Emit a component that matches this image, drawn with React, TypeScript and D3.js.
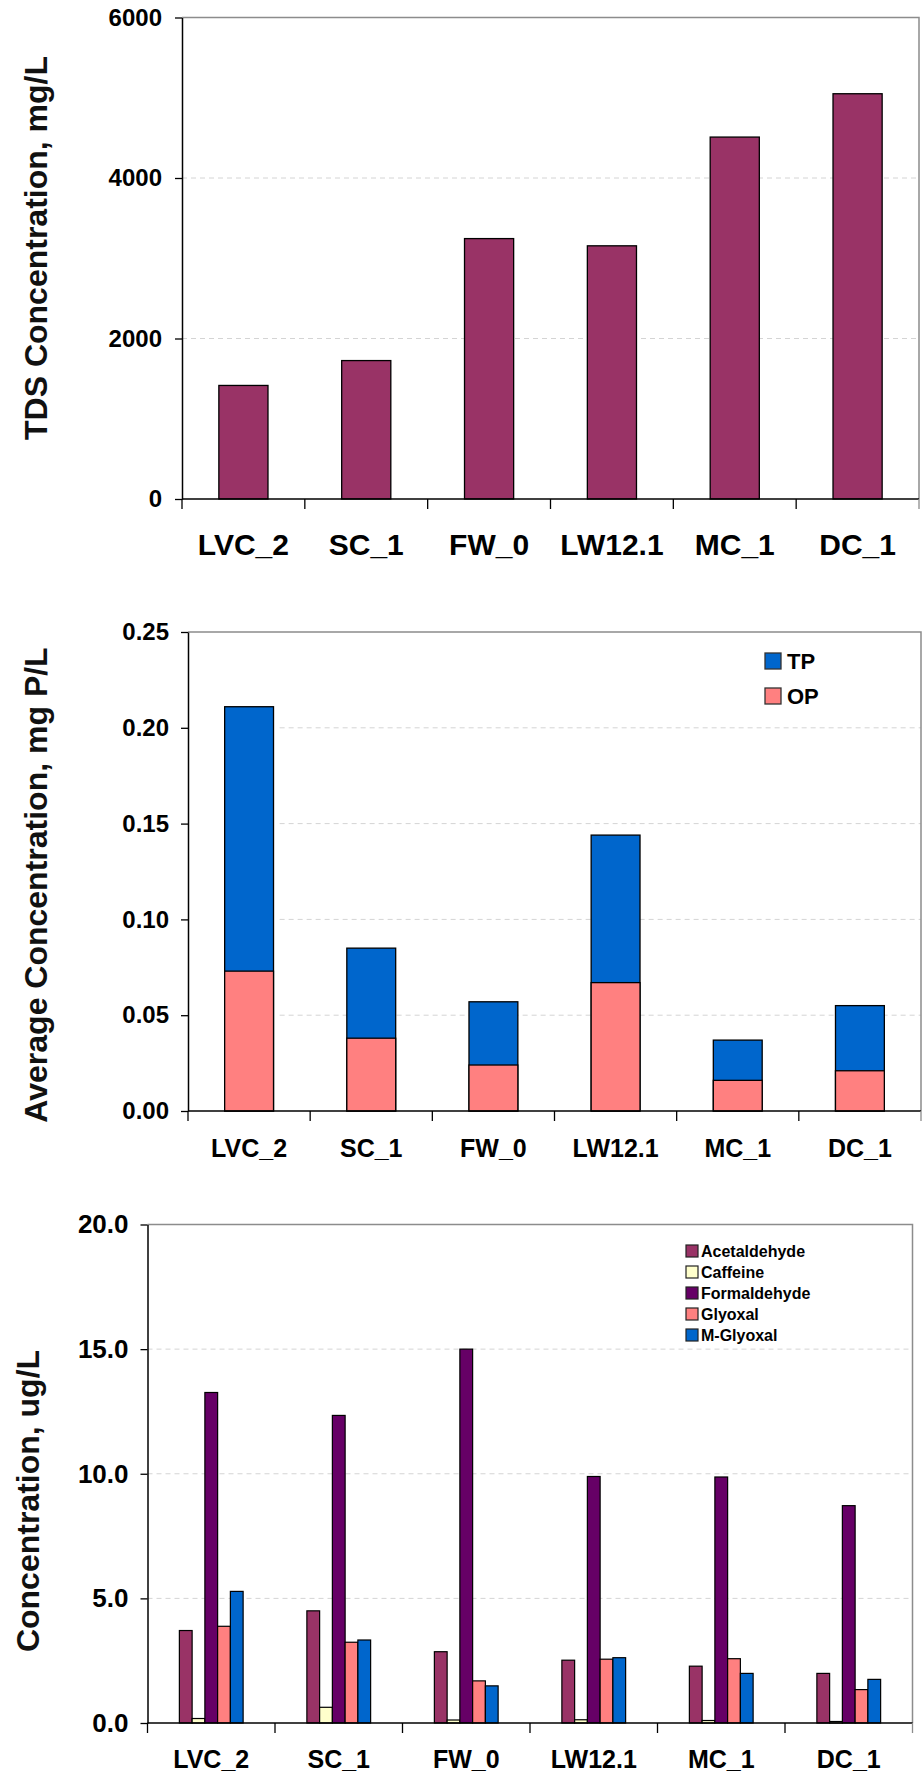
import { useEffect, useRef } from "react";
import * as d3 from "d3";

// sites along the x axis (same for all three panels)
const sites = ["LVC_2", "SC_1", "FW_0", "LW12.1", "MC_1", "DC_1"];

// panel 1: total dissolved solids, mg/L
const tdsValues = [1415, 1725, 3245, 3155, 4510, 5050];
const tdsTicks = [0, 2000, 4000, 6000];

// panel 2: phosphorus, mg P/L
const tpValues = [0.211, 0.085, 0.057, 0.144, 0.037, 0.055];
const opValues = [0.073, 0.038, 0.024, 0.067, 0.016, 0.021];
const pTicks = [0, 0.05, 0.1, 0.15, 0.2, 0.25];

// panel 3: carbonyls, ug/L
const carbonylNames = ["Acetaldehyde", "Caffeine", "Formaldehyde", "Glyoxal", "M-Glyoxal"];
const acetaldehyde = [3.71, 4.5, 2.86, 2.52, 2.28, 1.99];
const caffeine = [0.18, 0.63, 0.12, 0.13, 0.1, 0.06];
const formaldehyde = [13.26, 12.34, 15.0, 9.89, 9.87, 8.72];
const glyoxal = [3.88, 3.24, 1.69, 2.56, 2.58, 1.34];
const mGlyoxal = [5.28, 3.33, 1.49, 2.62, 1.99, 1.75];
const carbonylTicks = [0, 5, 10, 15, 20];

const FONT = "'Liberation Sans', Arial, Helvetica, sans-serif";

// draws frame, grid, axes and labels; returns the scales
function drawPanel(svg, cfg) {
  const g = svg.append("g");

  const x = d3.scaleBand()
    .domain(sites)
    .range([cfg.left, cfg.right]);

  const y = d3.scaleLinear()
    .domain([0, cfg.ticks[cfg.ticks.length - 1]])
    .range([cfg.bottom, cfg.top]);

  // dashed grid lines (not at 0 or top)
  const gridStart = cfg.gridFrom != null ? x(sites[0]) + x.bandwidth() * cfg.gridFrom : cfg.left;
  g.selectAll("line.grid")
    .data(cfg.ticks.slice(1, -1))
    .join("line")
    .attr("class", "grid")
    .attr("x1", gridStart)
    .attr("x2", cfg.right)
    .attr("y1", d => y(d))
    .attr("y2", d => y(d))
    .attr("stroke", "#d4d4d4")
    .attr("stroke-width", 1)
    .attr("stroke-dasharray", "5,4");

  // grey top / right border
  g.append("path")
    .attr("d", `M${cfg.left},${cfg.top}H${cfg.right}V${cfg.bottom}`)
    .attr("fill", "none")
    .attr("stroke", "#8c8c8c")
    .attr("stroke-width", 1.5);

  const layer = svg.append("g"); // bars go here, under the axes

  // left axis
  const yAxis = svg.append("g")
    .attr("transform", `translate(${cfg.left},0)`)
    .call(d3.axisLeft(y)
      .tickValues(cfg.ticks)
      .tickFormat(cfg.fmt)
      .tickSize(7)
      .tickSizeOuter(0)
      .tickPadding(cfg.tickPad));
  yAxis.select(".domain").attr("stroke", "#000").attr("stroke-width", 1.5);
  yAxis.selectAll(".tick line").attr("stroke", "#000").attr("stroke-width", 1.3);
  yAxis.selectAll(".tick text")
    .attr("fill", "#000")
    .style("font-family", FONT)
    .style("font-weight", "bold")
    .style("font-size", `${cfg.tickFont}px`);

  // bottom axis with ticks between categories
  svg.append("line")
    .attr("x1", cfg.left)
    .attr("x2", cfg.right)
    .attr("y1", cfg.bottom)
    .attr("y2", cfg.bottom)
    .attr("stroke", "#000")
    .attr("stroke-width", 1.5);

  const bounds = sites.map(s => x(s)).concat([cfg.right]);
  svg.selectAll(null)
    .data(bounds)
    .join("line")
    .attr("x1", d => d)
    .attr("x2", d => d)
    .attr("y1", cfg.bottom)
    .attr("y2", cfg.bottom + 10)
    .attr("stroke", (d, i) => (i === bounds.length - 1 ? "#8c8c8c" : "#000"))
    .attr("stroke-width", 1.3);

  svg.selectAll(null)
    .data(sites)
    .join("text")
    .attr("x", d => x(d) + x.bandwidth() / 2)
    .attr("y", cfg.catBaseline)
    .attr("text-anchor", "middle")
    .style("font-family", FONT)
    .style("font-weight", "bold")
    .style("font-size", `${cfg.catFont}px`)
    .text(d => d);

  // y axis title
  svg.append("text")
    .attr("transform", `translate(${cfg.titleX},${cfg.titleY}) rotate(-90)`)
    .attr("text-anchor", "middle")
    .style("font-family", FONT)
    .style("font-weight", "bold")
    .style("font-size", `${cfg.titleFont}px`)
    .attr("fill", "#111")
    .text(cfg.title);

  return { x, y, layer };
}

export default function App() {
  const ref = useRef(null);

  useEffect(() => {
    const svg = d3.select(ref.current);
    svg.selectAll("*").remove();

    // ---- panel 1: TDS
    const p1 = drawPanel(svg, {
      left: 182, right: 919, top: 17.5, bottom: 499,
      ticks: tdsTicks, fmt: d3.format("d"), tickPad: 13, tickFont: 24,
      catFont: 30, catBaseline: 555,
      title: "TDS Concentration, mg/L", titleX: 47, titleY: 248, titleFont: 32
    });
    p1.layer.selectAll("rect")
      .data(tdsValues)
      .join("rect")
      .attr("x", (d, i) => p1.x(sites[i]) + p1.x.bandwidth() * 0.3)
      .attr("width", p1.x.bandwidth() * 0.4)
      .attr("y", d => p1.y(d))
      .attr("height", d => p1.y(0) - p1.y(d))
      .attr("fill", "#993366")
      .attr("stroke", "#000")
      .attr("stroke-width", 1.3);

    // ---- panel 2: TP / OP
    const p2 = drawPanel(svg, {
      left: 188, right: 921, top: 632, bottom: 1111,
      ticks: pTicks, fmt: d3.format(".2f"), tickPad: 12, tickFont: 24,
      catFont: 25, catBaseline: 1157, gridFrom: 0.75,
      title: "Average Concentration, mg P/L", titleX: 47, titleY: 885, titleFont: 32
    });
    const pSeries = [
      { name: "TP", values: tpValues, color: "#0066CC" },
      { name: "OP", values: opValues, color: "#FF8080" }
    ];
    pSeries.forEach(s => {
      p2.layer.append("g").selectAll("rect")
        .data(s.values)
        .join("rect")
        .attr("x", (d, i) => p2.x(sites[i]) + p2.x.bandwidth() * 0.3)
        .attr("width", p2.x.bandwidth() * 0.4)
        .attr("y", d => p2.y(d))
        .attr("height", d => p2.y(0) - p2.y(d))
        .attr("fill", s.color)
        .attr("stroke", "#000")
        .attr("stroke-width", 1.3);
    });
    const leg2 = svg.append("g").attr("transform", "translate(765,653)");
    pSeries.forEach((s, i) => {
      leg2.append("rect")
        .attr("x", 0).attr("y", i * 35)
        .attr("width", 16).attr("height", 16)
        .attr("fill", s.color)
        .attr("stroke", "#333")
        .attr("stroke-width", 1.3);
      leg2.append("text")
        .attr("x", 22).attr("y", i * 35 + 16)
        .style("font-family", FONT)
        .style("font-weight", "bold")
        .style("font-size", "22px")
        .text(s.name);
    });

    // ---- panel 3: carbonyls
    const p3 = drawPanel(svg, {
      left: 147.5, right: 912.5, top: 1224.5, bottom: 1723,
      ticks: carbonylTicks, fmt: d3.format(".1f"), tickPad: 12, tickFont: 26,
      catFont: 25, catBaseline: 1768,
      title: "Concentration, ug/L", titleX: 39, titleY: 1501, titleFont: 32
    });
    const cSeries = [acetaldehyde, caffeine, formaldehyde, glyoxal, mGlyoxal];
    const cColors = ["#993366", "#FFFFCC", "#660066", "#FF8080", "#0066CC"];
    const inner = d3.scaleBand()
      .domain(carbonylNames)
      .range([0, p3.x.bandwidth() * 0.5]);
    cSeries.forEach((vals, k) => {
      p3.layer.append("g").selectAll("rect")
        .data(vals)
        .join("rect")
        .attr("x", (d, i) => p3.x(sites[i]) + p3.x.bandwidth() * 0.25 + inner(carbonylNames[k]))
        .attr("width", inner.bandwidth())
        .attr("y", d => p3.y(d))
        .attr("height", d => p3.y(0) - p3.y(d))
        .attr("fill", cColors[k])
        .attr("stroke", "#000")
        .attr("stroke-width", 1.2);
    });
    const leg3 = svg.append("g").attr("transform", "translate(686,1245)");
    carbonylNames.forEach((n, i) => {
      leg3.append("rect")
        .attr("x", 0).attr("y", i * 21)
        .attr("width", 12).attr("height", 12)
        .attr("fill", cColors[i])
        .attr("stroke", "#222")
        .attr("stroke-width", 1.2);
      leg3.append("text")
        .attr("x", 15).attr("y", i * 21 + 12)
        .style("font-family", FONT)
        .style("font-weight", "bold")
        .style("font-size", "16px")
        .text(n);
    });
  }, []);

  return (
    <svg
      ref={ref}
      width={923}
      height={1775}
      style={{ position: "absolute", left: 0, top: 0, background: "#fff" }}
    ></svg>
  );
}
